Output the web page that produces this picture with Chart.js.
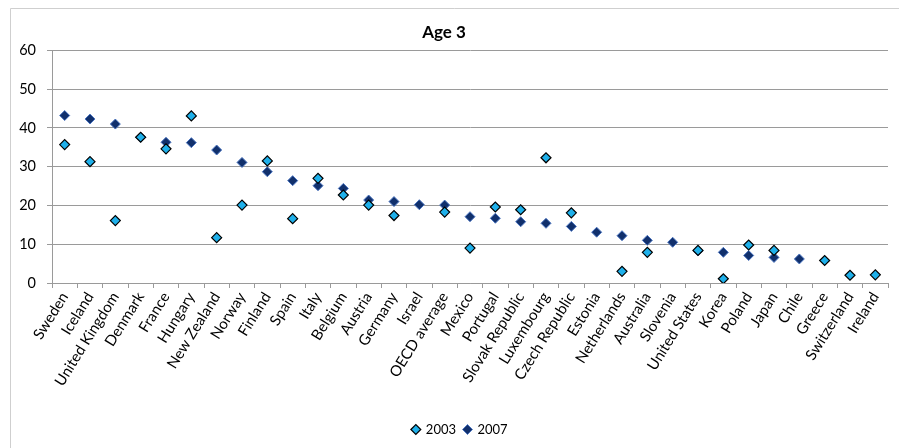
<!DOCTYPE html>
<html>
<head>
<meta charset="utf-8">
<script src="https://cdn.jsdelivr.net/npm/chart.js@4"></script>
<style>
  html, body { margin: 0; padding: 0; background: #fff; }
  #wrap { width: 899px; height: 448px; position: relative; }
</style>
</head>
<body>
<div id="wrap"><canvas id="c" width="899" height="448"></canvas></div>
<script>
const countries = ["Sweden","Iceland","United Kingdom","Denmark","France","Hungary","New Zealand","Norway","Finland","Spain","Italy","Belgium","Austria","Germany","Israel","OECD average","Mexico","Portugal","Slovak Republic","Luxembourg","Czech Republic","Estonia","Netherlands","Australia","Slovenia","United States","Korea","Poland","Japan","Chile","Greece","Switzerland","Ireland"];
const values2003 = [35.7,31.3,16.1,37.6,34.6,43.1,11.7,20.1,31.5,16.6,27.0,22.7,20.1,17.4,null,18.3,9.0,19.6,18.9,32.3,18.1,null,3.0,7.9,null,8.4,1.1,9.8,8.4,null,5.8,2.0,2.1];
const values2007 = [43.2,42.3,41.0,37.6,36.3,36.2,34.3,31.1,28.7,26.4,25.1,24.4,21.4,21.0,20.2,20.1,17.1,16.7,15.8,15.4,14.6,13.1,12.2,11.0,10.5,8.3,7.9,7.1,6.6,6.2,null,null,null];
const yTicks = [0,10,20,30,40,50,60];
const chartTitle = "Age 3";

const FONT = "Lato, 'Liberation Sans', sans-serif";

const borderPlugin = {
  id: 'outerBorder',
  beforeDraw(chart) {
    const ctx = chart.ctx;
    ctx.save();
    ctx.strokeStyle = '#cfcfcf';
    ctx.lineWidth = 1;
    ctx.beginPath();
    ctx.moveTo(10.5, 448);
    ctx.lineTo(10.5, 8.5);
    ctx.lineTo(899, 8.5);
    ctx.stroke();
    ctx.restore();
  },
  afterLayout(chart) {
    if (chart.legend) {
      chart.legend.left += 16;
      chart.legend.right += 16;
    }
  }
};

new Chart(document.getElementById('c'), {
  type: 'line',
  data: {
    labels: countries,
    datasets: [
      {
        label: '2003',
        data: values2003,
        showLine: false,
        pointStyle: 'rectRot',
        pointRadius: 5,
        pointHoverRadius: 5,
        backgroundColor: '#1fb0ea',
        borderColor: '#000000',
        borderWidth: 1.2
      },
      {
        label: '2007',
        data: values2007,
        showLine: false,
        pointStyle: 'rectRot',
        pointRadius: 5,
        pointHoverRadius: 5,
        backgroundColor: '#11306c',
        borderColor: '#4a74c0',
        borderWidth: 1
      }
    ]
  },
  options: {
    responsive: false,
    animation: false,
    layout: { padding: { left: 0, right: 11, top: 16, bottom: 2 } },
    plugins: {
      title: {
        display: true,
        text: chartTitle,
        color: '#000',
        font: { family: FONT, size: 17, weight: 'bold' },
        padding: { top: 6, bottom: 8 }
      },
      legend: {
        position: 'bottom',
        labels: {
          usePointStyle: true,
          pointStyle: 'rectRot',
          boxWidth: 7,
          boxHeight: 7,
          color: '#000',
          padding: 8,
          font: { family: FONT, size: 13 }
        }
      },
      tooltip: { enabled: false }
    },
    scales: {
      x: {
        type: 'category',
        offset: true,
        afterFit(scale) { scale.height = 132; },
        grid: {
          offset: true,
          drawOnChartArea: false,
          drawTicks: true,
          tickLength: 5,
          color: '#9a9a9a'
        },
        border: { color: '#9a9a9a', width: 1 },
        ticks: {
          autoSkip: false,
          minRotation: 58,
          maxRotation: 58,
          color: '#000',
          padding: 1,
          font: { family: FONT, size: 15 }
        }
      },
      y: {
        min: 0,
        max: 60,
        afterBuildTicks(scale) { scale.ticks = yTicks.map(v => ({ value: v })); },
        afterFit(scale) { scale.width = 52; },
        grid: {
          color: '#9a9a9a',
          lineWidth: 1,
          tickLength: 5
        },
        border: { color: '#9a9a9a', width: 1 },
        ticks: {
          color: '#000',
          padding: 11,
          font: { family: FONT, size: 14.5 }
        }
      }
    }
  },
  plugins: [borderPlugin]
});
</script>
</body>
</html>
